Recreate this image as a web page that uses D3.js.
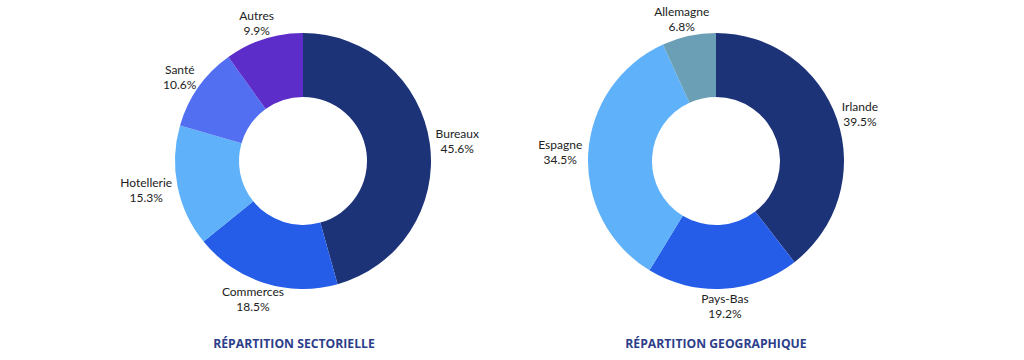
<!DOCTYPE html>
<html>
<head>
<meta charset="utf-8">
<script src="https://cdn.jsdelivr.net/npm/d3@7"></script>
<style>
  html, body { margin: 0; padding: 0; background: #ffffff; }
  svg { display: block; }
</style>
</head>
<body>
<svg id="chart" width="1024" height="360"></svg>
<script>
// Data
const sectorLabels = ["Bureaux", "Commerces", "Hotellerie", "Santé", "Autres"];
const sectorValues = [45.6, 18.5, 15.3, 10.6, 9.9];
const sectorColors = ["#1c3378", "#255de8", "#5fb2fa", "#526ff2", "#5c2dc9"];
const sectorTitle = "RÉPARTITION SECTORIELLE";

const geoLabels = ["Irlande", "Pays-Bas", "Espagne", "Allemagne"];
const geoValues = [39.5, 19.2, 34.5, 6.8];
const geoColors = ["#1c3378", "#255de8", "#5fb2fa", "#6a9fb6"];
const geoTitle = "RÉPARTITION GEOGRAPHIQUE";

const svg = d3.select("#chart");
const outerR = 128, innerR = 64;
const labelRx0 = 134, labelRy0 = 138, labelHalfH = 7;
const cy = 161;

function donut(cx, labels, values, colors, title) {
  const data = labels.map((l, i) => ({ label: l, value: values[i], color: colors[i] }));
  const pie = d3.pie().sort(null).value(d => d.value);
  const arc = d3.arc().innerRadius(innerR).outerRadius(outerR);
  const g = svg.append("g").attr("transform", `translate(${cx},${cy})`);
  const arcs = pie(data);
  g.selectAll("path").data(arcs).join("path")
    .attr("d", arc)
    .attr("fill", d => d.data.color);
  const lab = g.selectAll("text.lab").data(arcs).join("text")
    .attr("class", "lab")
    .attr("text-anchor", "middle")
    .attr("font-family", "Lato, 'Open Sans', sans-serif")
    .attr("font-size", 12)
    .attr("fill", "#222222");
  lab.append("tspan").attr("x", 0).attr("dy", "-0.25em").text(d => d.data.label);
  lab.append("tspan").attr("x", 0).attr("dy", "1.25em").text(d => d.data.value.toFixed(1) + "%");
  lab.attr("transform", function(d) {
    const a = (d.startAngle + d.endAngle) / 2;
    const w = this.getBBox().width;
    const x = (labelRx0 + w / 2) * Math.sin(a);
    const y = -(labelRy0 + labelHalfH) * Math.cos(a);
    return `translate(${x},${y})`;
  });
  svg.append("text")
    .attr("x", cx - 9 + (cx > 500 ? 9 : 0))
    .attr("y", 348)
    .attr("text-anchor", "middle")
    .attr("font-family", "'Open Sans', 'Noto Sans', sans-serif")
    .attr("font-weight", 700)
    .attr("font-size", 12.2)
    .attr("fill", "#2c3e8a")
    .text(title);
}

donut(303, sectorLabels, sectorValues, sectorColors, sectorTitle);
donut(716, geoLabels, geoValues, geoColors, geoTitle);
</script>
</body>
</html>
